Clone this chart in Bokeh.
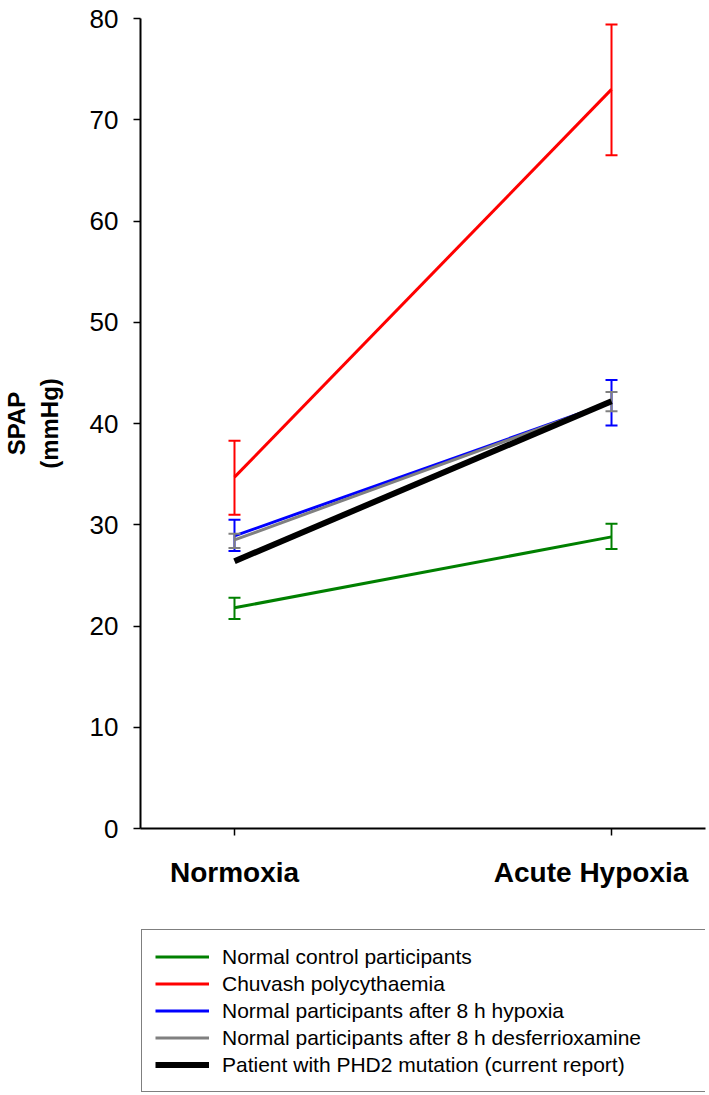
from bokeh.plotting import figure
from bokeh.models import Range1d, FixedTicker, Legend, LegendItem
from bokeh.layouts import column
from bokeh.embed import file_html
from bokeh.resources import INLINE

conditions = ["Normoxia", "Acute Hypoxia"]

series_names = [
    "Normal control participants",
    "Chuvash polycythaemia",
    "Normal participants after 8 h hypoxia",
    "Normal participants after 8 h desferrioxamine",
    "Patient with PHD2 mutation (current report)",
]
series_colors = ["#008000", "#ff0000", "#0000ff", "#808080", "#000000"]
series_widths = [3, 3, 3, 3, 6]

green_mean = [21.8, 28.8]
green_low = [20.7, 27.6]
green_high = [22.8, 30.1]

red_mean = [34.7, 73.0]
red_low = [31.0, 66.5]
red_high = [38.3, 79.4]

blue_mean = [28.9, 42.1]
blue_low = [27.4, 39.8]
blue_high = [30.5, 44.3]

grey_mean = [28.5, 42.1]
grey_low = [27.7, 41.2]
grey_high = [29.1, 43.1]

black_mean = [26.4, 42.2]

means = [green_mean, red_mean, blue_mean, grey_mean, black_mean]
lows = [green_low, red_low, blue_low, grey_low, None]
highs = [green_high, red_high, blue_high, grey_high, None]

y_ticks = [0, 10, 20, 30, 40, 50, 60, 70, 80]

FONT = "Liberation Sans"

x_pos = list(range(len(conditions)))

p = figure(width=709, height=900, output_backend="svg", toolbar_location=None,
           x_range=Range1d(-0.2493, 1.2493), y_range=Range1d(0, 80),
           min_border_left=140, min_border_right=4, min_border_top=18,
           min_border_bottom=72)
p.outline_line_color = None
p.grid.visible = False
p.background_fill_color = "white"

# axes
p.yaxis.ticker = FixedTicker(ticks=y_ticks)
p.yaxis.minor_tick_line_color = None
p.yaxis.major_tick_in = 0
p.yaxis.major_tick_out = 7
p.yaxis.major_tick_line_width = 1.5
p.yaxis.axis_line_width = 2
p.yaxis.major_label_text_font = FONT
p.yaxis.major_label_text_font_size = "26px"
p.yaxis.major_label_text_color = "black"
p.yaxis.major_label_standoff = 15
p.yaxis.axis_label = "SPAP\n(mmHg)"
p.yaxis.axis_label_text_font = FONT
p.yaxis.axis_label_text_font_style = "bold"
p.yaxis.axis_label_text_font_size = "24px"
p.yaxis.axis_label_text_color = "black"
p.yaxis.axis_label_standoff = 24

# the right-hand label sits a little left of its tick in the reference
x_label_texts = [conditions[0], conditions[1] + "\u00a0\u00a0\u2009"]

p.xaxis.ticker = FixedTicker(ticks=x_pos)
p.xaxis.major_label_overrides = {i: c for i, c in zip(x_pos, x_label_texts)}
p.xaxis.minor_tick_line_color = None
p.xaxis.major_tick_in = 0
p.xaxis.major_tick_out = 7
p.xaxis.major_tick_line_width = 1.5
p.xaxis.axis_line_width = 2
p.xaxis.major_label_text_font = FONT
p.xaxis.major_label_text_font_style = "bold"
p.xaxis.major_label_text_font_size = "28px"
p.xaxis.major_label_text_color = "black"
p.xaxis.major_label_standoff = 21

for color, lw, m, lo, hi in zip(series_colors, series_widths, means, lows, highs):
    if lo is not None:
        p.segment(x0=x_pos, y0=lo, x1=x_pos, y1=hi, line_color=color, line_width=2)
        p.scatter(x=x_pos, y=lo, marker="dash", size=12, line_color=color, line_width=2)
        p.scatter(x=x_pos, y=hi, marker="dash", size=12, line_color=color, line_width=2)
    p.line(x=x_pos, y=m, line_color=color, line_width=lw)

# legend panel (separate figure below the chart); its lines lie outside its view
pl = figure(width=709, height=195, output_backend="svg", toolbar_location=None,
            x_range=Range1d(-0.2493, 1.2493), y_range=Range1d(-2, -1),
            x_axis_location=None, y_axis_location=None,
            min_border_left=0, min_border_right=0, min_border_top=0,
            min_border_bottom=0)
pl.outline_line_color = None
pl.grid.visible = False

items = []
for name, color, lw, m in zip(series_names, series_colors, series_widths, means):
    r = pl.line(x=x_pos, y=m, line_color=color, line_width=lw)
    items.append(LegendItem(label=name, renderers=[r]))

legend = Legend(items=items, location=(1, 3))
legend.padding = 13
legend.spacing = 0
legend.label_height = 27
legend.glyph_height = 27
legend.glyph_width = 54
legend.label_standoff = 13
legend.label_width = 470
legend.label_text_font = FONT
legend.label_text_font_size = "21px"
legend.label_text_color = "black"
legend.border_line_color = "black"
legend.border_line_width = 1.5
legend.background_fill_color = "white"
legend.background_fill_alpha = 1
legend.margin = 0
pl.add_layout(legend, "center")

layout = column(p, pl, spacing=0)
open("out.html", "w").write(file_html(layout, INLINE))
